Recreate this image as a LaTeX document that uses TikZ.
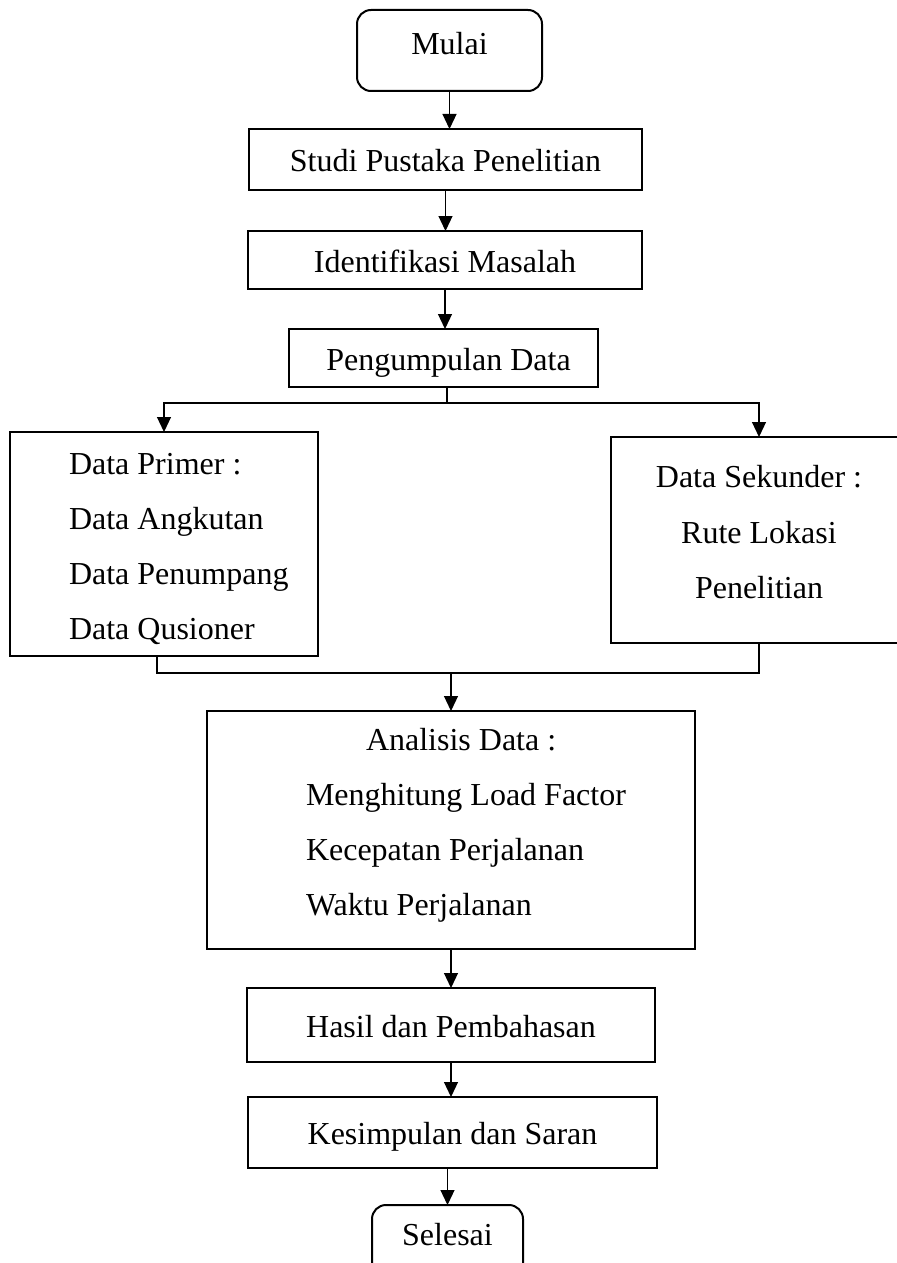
\documentclass[tikz,border=0pt]{standalone}
\usepackage{fontspec}
\setmainfont{Liberation Serif}
\usetikzlibrary{arrows.meta}

\begin{document}
\begin{tikzpicture}[
  x=0.5pt, y=-0.5pt,
  every node/.style={font=\fontsize{16}{19}\selectfont, inner sep=0pt, outer sep=0pt},
  box/.style={draw, line width=1pt, rectangle, text height=12pt, text depth=0pt},
  term/.style={box, rounded corners=7pt},
  line/.style={line width=0.6pt},
  arr/.style={line, -{Triangle[length=7.5pt,width=7pt]}},
  txt/.style={anchor=base west},
  ctxt/.style={anchor=base}
]
\useasboundingbox (0,0) rectangle (897,1263);

% main column of process boxes
\node[term, minimum width=92.5pt, minimum height=40.5pt, text height=10pt, text depth=5.5pt] (mulai) at (449.5,50.5) {Mulai};
\node[box, minimum width=196.5pt, minimum height=30.5pt] (studi) at (445.5,159.5) {Studi Pustaka Penelitian};
\node[box, minimum width=197pt, minimum height=29pt] (ident) at (445,260) {Identifikasi Masalah};
\node[box, minimum width=154.5pt, minimum height=29pt] (peng) at (443.5,358) {\hspace{5pt}Pengumpulan Data};

% the two data branches
\node[box, minimum width=154pt, minimum height=112pt] (primer) at (164,544) {};
\node[txt] (p1) at (69,474) {Data Primer :};
\node[txt] (p2) at (69,529) {Data Angkutan};
\node[txt] (p3) at (69,584) {Data Penumpang};
\node[txt] (p4) at (69,639) {Data Qusioner};

\node[box, minimum width=148pt, minimum height=103pt] (sekunder) at (759,540) {};
\node[ctxt] (s1) at (759,487) {Data Sekunder :};
\node[ctxt] (s2) at (759,543) {Rute Lokasi};
\node[ctxt] (s3) at (759,598) {Penelitian};

% analysis
\node[box, minimum width=244pt, minimum height=119pt] (analisis) at (451,830) {};
\node[txt] (a1) at (366,750) {Analisis Data :};
\node[txt] (a2) at (306,805) {Menghitung Load Factor};
\node[txt] (a3) at (306,860) {Kecepatan Perjalanan};
\node[txt] (a4) at (306,915) {Waktu Perjalanan};

\node[box, minimum width=204pt, minimum height=37pt] (hasil) at (451,1025) {Hasil dan Pembahasan};
\node[box, minimum width=204.5pt, minimum height=35.5pt] (kesimpulan) at (452.5,1132.5) {Kesimpulan dan Saran};
\node[term, minimum width=75.5pt, minimum height=40.5pt, text height=6pt, text depth=6pt] (selesai) at (447.5,1245.5) {Selesai};

% junction points
\coordinate (split) at (447,403);
\coordinate (pl) at (157,673);
\coordinate (sl) at (759,673);
\coordinate (merge) at (451,673);

% connectors
\draw[arr] (mulai.south) -- (mulai.south |- studi.north);
\draw[arr] (studi.south) -- (studi.south |- ident.north);
\draw[arr] (ident.south) -- (ident.south |- peng.north);
\draw[line] (peng.south -| split) -- (split);
\draw[arr] (split) -| (primer.north);
\draw[arr] (split) -| (sekunder.north);
\draw[line] (primer.south -| pl) -- (pl) -- (sl) -- (sekunder.south);
\draw[arr] (merge) -- (merge |- analisis.north);
\draw[arr] (analisis.south) -- (analisis.south |- hasil.north);
\draw[arr] (hasil.south) -- (hasil.south |- kesimpulan.north);
\draw[arr] (kesimpulan.south -| selesai.north) -- (selesai.north);
\end{tikzpicture}
\end{document}
